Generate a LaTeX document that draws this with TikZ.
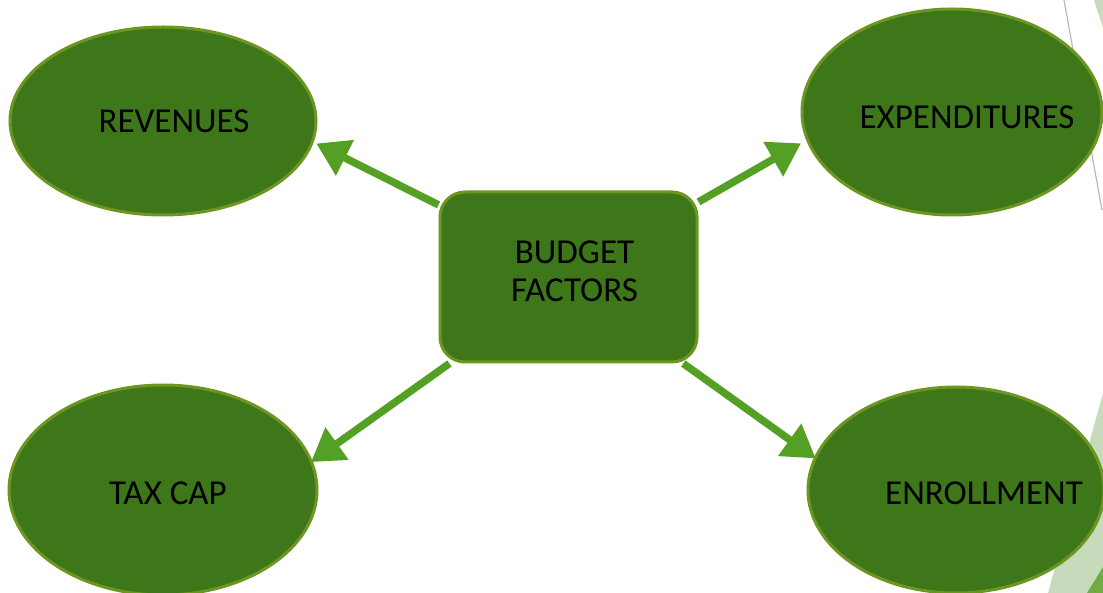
\documentclass[tikz,border=0pt]{standalone}
\usepackage{fontspec}
\setmainfont{Carlito}
\usetikzlibrary{shapes.geometric, arrows.meta}
\definecolor{leaf}{RGB}{62,119,26}
\definecolor{rim}{RGB}{108,150,32}
\definecolor{shoot}{RGB}{84,160,36}
\definecolor{pale}{RGB}{200,218,188}
\definecolor{moss}{RGB}{112,172,66}

\begin{document}
\begin{tikzpicture} [x=1pt, y=-1pt, font=\fontsize{35}{38}\selectfont,
  oval/.style={draw=rim, line width=3pt, fill=leaf, ellipse, inner sep=0pt},
  box/.style={draw=rim, line width=3pt, fill=leaf, rounded corners=25pt, minimum width=257pt, minimum height=170pt},
  arr/.style={shoot, line width=7.5pt, -{Triangle[length=32pt, width=38pt]}}]
\useasboundingbox (0,0) rectangle (1103,593);
% slide background
\fill[pale] (1048,593) -- (1103,393) -- (1103,593) -- cycle;
\fill[moss] (1087,593) -- (1103,567) -- (1103,593) -- cycle;
\fill[pale] (1094,0) -- (1103,0) -- (1103,28) -- cycle;
\draw[gray!55, line width=1.2pt] (1064,0) -- (1102,210);
% ovals
\node[oval, minimum width=306pt, minimum height=188pt, label={[xshift=11pt]center:REVENUES}](r) at (163,121){};
\node[oval, minimum width=300pt, minimum height=206pt, label={[xshift=15pt, yshift=-5pt]center:EXPENDITURES}](e) at (952,112){};
\node[oval, minimum width=308pt, minimum height=210pt, label={[xshift=5pt, yshift=-3pt]center:TAX CAP}](t) at (163,490){};
\node[oval, minimum width=296pt, minimum height=206pt, label={[xshift=28pt, yshift=-3pt]center:ENROLLMENT}](n) at (956,490){};
\node[box, label={[align=center, xshift=6pt, yshift=6pt]center:BUDGET\\FACTORS}](b) at (568.5,277){};
\draw[arr, shorten >=3pt] (b.151) -- (r.-8);
\draw[arr, shorten >=6pt] (b.30) -- (e.191);
\draw[arr, shorten >=-2pt] (b.216) -- (t.11);
\draw[arr, shorten >=-2pt] (b.-37) -- (n.167);
\end{tikzpicture}
\end{document}
